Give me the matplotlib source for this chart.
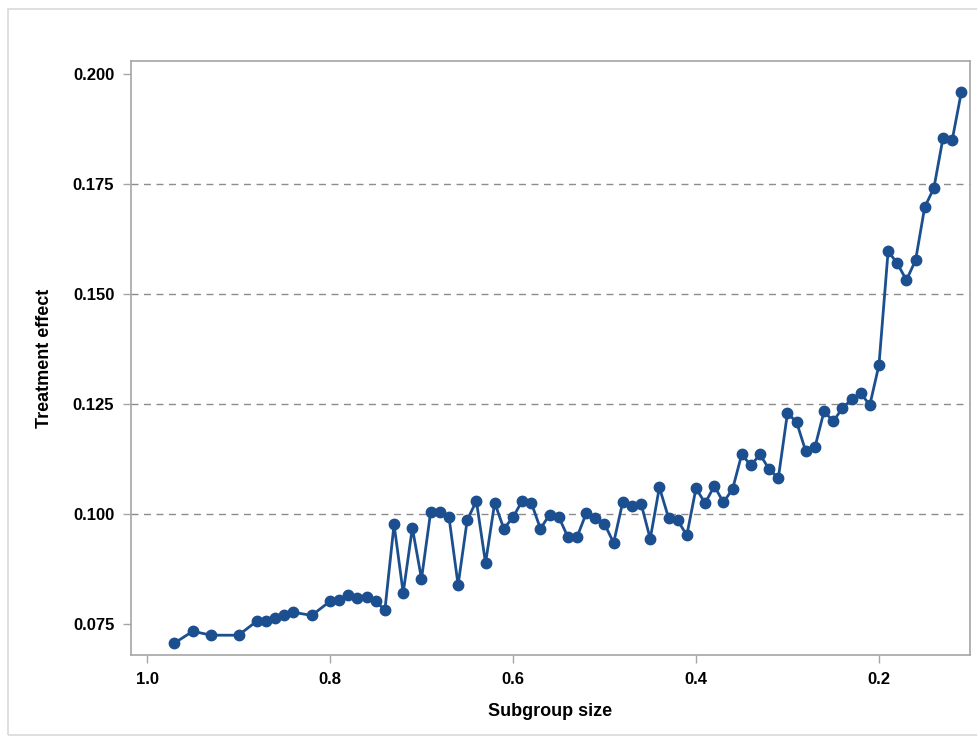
import matplotlib
matplotlib.use("Agg")
import matplotlib.pyplot as plt
from matplotlib.patches import Rectangle

plt.rcParams['font.family'] = ['Liberation Sans Narrow', 'Liberation Sans', 'DejaVu Sans']

# subgroup size (fraction) and estimated treatment effect
subgroup = [0.97, 0.95, 0.93, 0.90, 0.88, 0.87, 0.86, 0.85, 0.84, 0.82,
            0.80, 0.79, 0.78, 0.77, 0.76, 0.75, 0.74, 0.73, 0.72, 0.71,
            0.70, 0.69, 0.68, 0.67, 0.66, 0.65, 0.64, 0.63, 0.62, 0.61,
            0.60, 0.59, 0.58, 0.57, 0.56, 0.55, 0.54, 0.53, 0.52, 0.51,
            0.50, 0.49, 0.48, 0.47, 0.46, 0.45, 0.44, 0.43, 0.42, 0.41,
            0.40, 0.39, 0.38, 0.37, 0.36, 0.35, 0.34, 0.33, 0.32, 0.31,
            0.30, 0.29, 0.28, 0.27, 0.26, 0.25, 0.24, 0.23, 0.22, 0.21,
            0.20, 0.19, 0.18, 0.17, 0.16, 0.15, 0.14, 0.13, 0.12, 0.11]
effect = [0.0707, 0.0734, 0.0725, 0.0725, 0.0757, 0.0757, 0.0764, 0.0770, 0.0777, 0.0770,
          0.0802, 0.0805, 0.0816, 0.0809, 0.0811, 0.0802, 0.0782, 0.0977, 0.0821, 0.0969,
          0.0853, 0.1005, 0.1005, 0.0994, 0.0839, 0.0987, 0.1030, 0.0889, 0.1026, 0.0967,
          0.0993, 0.1030, 0.1026, 0.0967, 0.0999, 0.0994, 0.0948, 0.0948, 0.1002, 0.0992,
          0.0978, 0.0935, 0.1028, 0.1019, 0.1024, 0.0944, 0.1061, 0.0992, 0.0986, 0.0952,
          0.1059, 0.1025, 0.1064, 0.1027, 0.1057, 0.1136, 0.1111, 0.1136, 0.1102, 0.1082,
          0.1230, 0.1209, 0.1143, 0.1152, 0.1234, 0.1211, 0.1241, 0.1261, 0.1275, 0.1248,
          0.1339, 0.1598, 0.1570, 0.1532, 0.1577, 0.1698, 0.1741, 0.1855, 0.1850, 0.1959]

xticks = [1.0, 0.8, 0.6, 0.4, 0.2]
yticks = [0.075, 0.100, 0.125, 0.150, 0.175, 0.200]
grid_y = [0.100, 0.125, 0.150, 0.175]

fig = plt.figure(figsize=(9.78, 7.42), dpi=100)
fig.patches.append(Rectangle((8 / 978, 1 - 735 / 742), 975 / 978, 726 / 742,
                             transform=fig.transFigure, fill=False,
                             edgecolor='#d9d9d9', lw=1.2))

ax = fig.add_axes([131 / 978, 1 - 655 / 742, 839 / 978, 594 / 742])

for g in grid_y:
    ax.axhline(g, color='#8c8c8c', lw=1, ls=(0, (5, 4)), zorder=1)

ax.plot(subgroup, effect, color='#1c4f8f', lw=2.0, marker='o', ms=7.5,
        markerfacecolor='#1c4f8f', markeredgecolor='#1c4f8f', zorder=3)

ax.set_xlim(1.0175, 0.1005)
ax.set_ylim(0.068, 0.203)
ax.set_xticks(xticks)
ax.set_xticklabels(['%.1f' % t for t in xticks])
ax.set_yticks(yticks)
ax.set_yticklabels(['%.3f' % t for t in yticks])

for s in ax.spines.values():
    s.set_color('#a6a6a6')
    s.set_linewidth(1.2)
ax.tick_params(direction='out', length=6, width=1, color='#a6a6a6',
               labelsize=12, pad=6)
for lab in ax.get_xticklabels() + ax.get_yticklabels():
    lab.set_fontweight('bold')

ax.set_xlabel('Subgroup size', fontsize=13, fontweight='bold', labelpad=12)
ax.set_ylabel('Treatment effect', fontsize=13, fontweight='bold', labelpad=14)

fig.savefig('out.png', dpi=100)
